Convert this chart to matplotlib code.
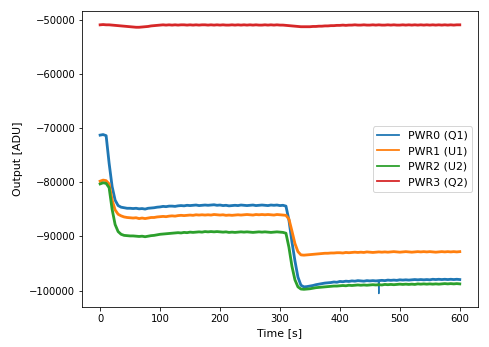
import numpy as np
import matplotlib
matplotlib.use("Agg")
import matplotlib.pyplot as plt

# time axis in seconds, one sample every 5 s
time_s = np.arange(0, 601, 5)

pwr0_q1 = [
    -71300, -71200, -71400, -76500, -80800, -83300, -84300, -84600, -84700, -84800,
    -84800, -84850, -84800, -84900, -84850, -84950, -84800, -84750, -84700, -84600,
    -84550, -84450, -84500, -84400, -84400, -84450, -84350, -84300, -84350, -84250,
    -84300, -84250, -84200, -84300, -84250, -84200, -84250, -84200, -84150, -84250,
    -84200, -84300, -84250, -84350, -84300, -84250, -84300, -84200, -84250, -84300,
    -84250, -84200, -84300, -84250, -84200, -84250, -84300, -84200, -84250, -84200,
    -84300, -84250, -84400, -87000, -91000, -94500, -97500, -99000, -99300, -99250,
    -99150, -99050, -98900, -98800, -98700, -98600, -98550, -98500, -98400, -98450,
    -98300, -98350, -98250, -98300, -98200, -98250, -98150, -98200, -98250, -98150,
    -98200, -98150, -98200, -98150, -98100, -98150, -98050, -98100, -98050, -98100,
    -98000, -98050, -98000, -98050, -98000, -97950, -98000, -97950, -98000, -97950,
    -98000, -97900, -97950, -97900, -97950, -97900, -97950, -97900, -97950, -97900,
    -97950,
]

pwr1_u1 = [
    -79800, -79600, -79700, -80300, -83300, -85100, -85900, -86200, -86400, -86500,
    -86550, -86600, -86550, -86700, -86600, -86700, -86600, -86500, -86500, -86400,
    -86350, -86300, -86350, -86250, -86200, -86250, -86150, -86100, -86150, -86100,
    -86050, -86100, -86000, -86050, -86000, -86050, -86000, -86050, -85950, -86000,
    -86050, -86000, -86100, -86050, -86100, -86050, -86000, -86050, -86000, -85950,
    -86000, -86050, -85950, -86000, -85950, -86000, -85950, -86000, -86050, -85950,
    -86000, -86050, -86100, -86800, -89000, -91300, -92800, -93400, -93450, -93400,
    -93350, -93300, -93250, -93200, -93150, -93100, -93100, -93050, -93050, -93000,
    -93000, -93050, -92950, -93000, -92950, -92900, -92950, -92900, -92950, -92850,
    -92900, -92950, -92900, -92850, -92900, -92850, -92900, -92850, -92800, -92850,
    -92900, -92850, -92800, -92850, -92900, -92850, -92800, -92850, -92800, -92850,
    -92800, -92850, -92900, -92850, -92800, -92850, -92800, -92850, -92800, -92850,
    -92800,
]

pwr2_u2 = [
    -80300, -80100, -80200, -81000, -85000, -87800, -89100, -89600, -89800, -89850,
    -89900, -89900, -89950, -90000, -89950, -90050, -89950, -89850, -89800, -89700,
    -89600, -89550, -89500, -89450, -89400, -89350, -89300, -89350, -89250, -89300,
    -89200, -89250, -89200, -89150, -89200, -89100, -89150, -89100, -89150, -89100,
    -89150, -89200, -89150, -89250, -89200, -89250, -89200, -89150, -89200, -89150,
    -89200, -89250, -89200, -89150, -89200, -89150, -89200, -89250, -89200, -89150,
    -89200, -89250, -89400, -92000, -95500, -98000, -99300, -99700, -99750, -99700,
    -99650, -99550, -99450, -99400, -99350, -99300, -99250, -99200, -99150, -99150,
    -99100, -99050, -99100, -99000, -99050, -99000, -98950, -99000, -98950, -99000,
    -98950, -98900, -98950, -98900, -98950, -98850, -98900, -98850, -98900, -98850,
    -98800, -98850, -98800, -98850, -98800, -98850, -98750, -98800, -98750, -98800,
    -98750, -98800, -98750, -98800, -98750, -98700, -98750, -98700, -98750, -98700,
    -98750,
]

pwr3_q2 = [
    -50950, -50900, -50950, -50950, -51000, -51050, -51100, -51150, -51200, -51250,
    -51300, -51350, -51400, -51400, -51350, -51300, -51250, -51150, -51100, -51050,
    -51000, -50950, -51000, -50950, -51000, -50950, -51000, -50950, -50950, -51000,
    -50950, -51000, -50950, -51000, -50950, -50950, -51000, -50950, -51000, -50950,
    -51000, -50950, -51000, -51000, -50950, -51000, -50950, -51000, -50950, -51000,
    -50950, -51000, -50950, -51000, -51000, -50950, -51000, -50950, -51000, -50950,
    -51000, -51000, -51050, -51100, -51150, -51200, -51250, -51300, -51300, -51300,
    -51300, -51250, -51250, -51200, -51200, -51150, -51150, -51100, -51100, -51050,
    -51050, -51000, -51050, -51000, -51000, -50950, -51000, -51000, -50950, -51000,
    -51000, -50950, -51000, -50950, -51000, -51000, -50950, -51000, -50950, -51000,
    -51000, -50950, -51000, -50950, -51000, -50950, -51000, -50950, -51000, -50950,
    -51000, -50950, -51000, -50950, -51000, -50950, -51000, -50950, -51000, -50950,
    -50950,
]

# single-sample glitch on PWR0
spike_t = [464, 465, 466]
spike_v = [-98250, -100550, -98250]

series = [
    ("PWR0 (Q1)", pwr0_q1, "tab:blue"),
    ("PWR1 (U1)", pwr1_u1, "tab:orange"),
    ("PWR2 (U2)", pwr2_u2, "tab:green"),
    ("PWR3 (Q2)", pwr3_q2, "tab:red"),
]

fig = plt.figure(figsize=(489 / 72, 347 / 72), dpi=72)
ax = fig.add_axes([0.168, 0.115, 0.809, 0.853])

for label, vals, col in series:
    ax.plot(time_s, vals, color=col, lw=2.8, label=label)
    if label.startswith("PWR0"):
        ax.plot(spike_t, spike_v, color=col, lw=1.2)

ax.set_xlabel("Time [s]", fontsize=11)
ax.set_ylabel("Output [ADU]", fontsize=11, labelpad=6)
ax.set_xticks([0, 100, 200, 300, 400, 500, 600])
ax.set_yticks([-50000, -60000, -70000, -80000, -90000, -100000])
ax.tick_params(labelsize=10)

leg = ax.legend(loc="center right", fontsize=11)
for line in leg.get_lines():
    line.set_linewidth(1.8)

fig.savefig("out.png", dpi=72)
